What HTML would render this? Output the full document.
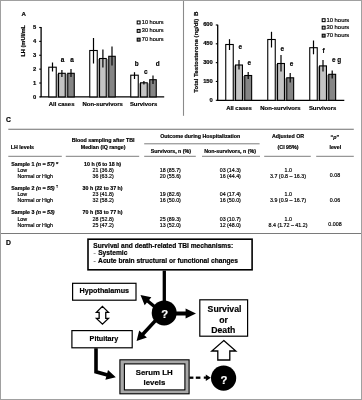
<!DOCTYPE html><html><head><meta charset="utf-8"><style>html,body{margin:0;padding:0;background:#fff;}svg{display:block;will-change:transform;}text{font-family:"Liberation Sans", sans-serif;}</style></head><body>
<svg width="362" height="400" viewBox="0 0 362 400" font-family='"Liberation Sans", sans-serif'>
<rect x="0" y="0" width="362" height="400" fill="#fff"/>
<text x="21.4" y="15.9" font-size="6.1" font-weight="bold" text-anchor="start" fill="#000" stroke="#000" stroke-width="0.18" >A</text>
<text transform="translate(25.1,56.6) rotate(-90)" font-size="5.65" font-weight="bold" stroke="#000" stroke-width="0.18">LH (mUI/mL</text>
<line x1="41.1" y1="27.0" x2="41.1" y2="96.9" stroke="#000" stroke-width="1.3" />
<line x1="40.4" y1="96.9" x2="164.2" y2="96.9" stroke="#000" stroke-width="1.2" />
<line x1="39.2" y1="96.9" x2="41.1" y2="96.9" stroke="#000" stroke-width="1.1" />
<text x="36.2" y="98.8" font-size="5.8" font-weight="bold" text-anchor="end" fill="#000" stroke="#000" stroke-width="0.18" >0</text>
<line x1="39.2" y1="83.02" x2="41.1" y2="83.02" stroke="#000" stroke-width="1.1" />
<text x="36.2" y="84.92" font-size="5.8" font-weight="bold" text-anchor="end" fill="#000" stroke="#000" stroke-width="0.18" >1</text>
<line x1="39.2" y1="69.14" x2="41.1" y2="69.14" stroke="#000" stroke-width="1.1" />
<text x="36.2" y="71.04" font-size="5.8" font-weight="bold" text-anchor="end" fill="#000" stroke="#000" stroke-width="0.18" >2</text>
<line x1="39.2" y1="55.26" x2="41.1" y2="55.26" stroke="#000" stroke-width="1.1" />
<text x="36.2" y="57.16" font-size="5.8" font-weight="bold" text-anchor="end" fill="#000" stroke="#000" stroke-width="0.18" >3</text>
<line x1="39.2" y1="41.38" x2="41.1" y2="41.38" stroke="#000" stroke-width="1.1" />
<text x="36.2" y="43.28" font-size="5.8" font-weight="bold" text-anchor="end" fill="#000" stroke="#000" stroke-width="0.18" >4</text>
<line x1="39.2" y1="27.5" x2="41.1" y2="27.5" stroke="#000" stroke-width="1.1" />
<text x="36.2" y="29.4" font-size="5.8" font-weight="bold" text-anchor="end" fill="#000" stroke="#000" stroke-width="0.18" >5</text>
<rect x="56.8" y="73.8" width="1.2" height="23.1" fill="#a2a2a2"/>
<rect x="65.8" y="73.8" width="1.4" height="23.1" fill="#a2a2a2"/>
<rect x="48.75" y="67.2" width="7.5" height="29.7" fill="#fff" stroke="#000" stroke-width="1.1"/>
<line x1="52.5" y1="62.5" x2="52.5" y2="71.5" stroke="#000" stroke-width="1.2" />
<rect x="58.55" y="73.3" width="6.7" height="23.6" fill="#c4c4c4" stroke="#000" stroke-width="1.1"/>
<line x1="61.9" y1="70.0" x2="61.9" y2="77.0" stroke="#000" stroke-width="1.2" />
<rect x="67.75" y="73.3" width="6.5" height="23.6" fill="#858585" stroke="#000" stroke-width="1.1"/>
<line x1="71.0" y1="69.0" x2="71.0" y2="77.0" stroke="#000" stroke-width="1.2" />
<rect x="97.8" y="59.0" width="1.2" height="37.9" fill="#a2a2a2"/>
<rect x="106.8" y="59.0" width="1.4" height="37.9" fill="#a2a2a2"/>
<rect x="89.75" y="50.5" width="7.5" height="46.4" fill="#fff" stroke="#000" stroke-width="1.1"/>
<line x1="93.5" y1="38.0" x2="93.5" y2="63.5" stroke="#000" stroke-width="1.2" />
<rect x="99.55" y="58.5" width="6.7" height="38.4" fill="#c4c4c4" stroke="#000" stroke-width="1.1"/>
<line x1="102.9" y1="49.5" x2="102.9" y2="67.5" stroke="#000" stroke-width="1.2" />
<rect x="108.75" y="56.3" width="6.5" height="40.6" fill="#858585" stroke="#000" stroke-width="1.1"/>
<line x1="112.0" y1="46.5" x2="112.0" y2="65.5" stroke="#000" stroke-width="1.2" />
<rect x="138.8" y="83.3" width="1.2" height="13.6" fill="#a2a2a2"/>
<rect x="147.8" y="83.3" width="1.4" height="13.6" fill="#a2a2a2"/>
<rect x="130.75" y="75.2" width="7.5" height="21.7" fill="#fff" stroke="#000" stroke-width="1.1"/>
<line x1="134.5" y1="72.2" x2="134.5" y2="79.0" stroke="#000" stroke-width="1.2" />
<rect x="140.55" y="82.8" width="6.7" height="14.1" fill="#c4c4c4" stroke="#000" stroke-width="1.1"/>
<line x1="143.9" y1="81.0" x2="143.9" y2="84.5" stroke="#000" stroke-width="1.2" />
<rect x="149.75" y="79.7" width="6.5" height="17.2" fill="#858585" stroke="#000" stroke-width="1.1"/>
<line x1="153.0" y1="75.5" x2="153.0" y2="84.0" stroke="#000" stroke-width="1.2" />
<text x="62.6" y="62.3" font-size="6.4" font-weight="bold" text-anchor="middle" fill="#000" stroke="#000" stroke-width="0.18" >a</text>
<text x="72.1" y="62.3" font-size="6.4" font-weight="bold" text-anchor="middle" fill="#000" stroke="#000" stroke-width="0.18" >a</text>
<text x="136.8" y="65.8" font-size="6.4" font-weight="bold" text-anchor="middle" fill="#000" stroke="#000" stroke-width="0.18" >b</text>
<text x="145.8" y="73.6" font-size="6.4" font-weight="bold" text-anchor="middle" fill="#000" stroke="#000" stroke-width="0.18" >c</text>
<text x="157.8" y="65.8" font-size="6.4" font-weight="bold" text-anchor="middle" fill="#000" stroke="#000" stroke-width="0.18" >d</text>
<text x="61.6" y="106.2" font-size="5.95" font-weight="bold" text-anchor="middle" fill="#000" stroke="#000" stroke-width="0.18" >All cases</text>
<text x="102.7" y="106.2" font-size="5.95" font-weight="bold" text-anchor="middle" fill="#000" stroke="#000" stroke-width="0.18" >Non-survivors</text>
<text x="143.6" y="106.2" font-size="5.95" font-weight="bold" text-anchor="middle" fill="#000" stroke="#000" stroke-width="0.18" >Survivors</text>
<rect x="137.2" y="21.0" width="2.9" height="2.9" fill="#fff" stroke="#000" stroke-width="1.05"/>
<text x="141.8" y="23.85" font-size="5.6" text-anchor="start" fill="#000" stroke="#000" stroke-width="0.18" >10 hours</text>
<rect x="137.2" y="29.45" width="2.9" height="2.9" fill="#c4c4c4" stroke="#000" stroke-width="1.05"/>
<text x="141.8" y="32.3" font-size="5.6" text-anchor="start" fill="#000" stroke="#000" stroke-width="0.18" >30 hours</text>
<rect x="137.2" y="38.2" width="2.9" height="2.9" fill="#858585" stroke="#000" stroke-width="1.05"/>
<text x="141.8" y="41.05" font-size="5.6" text-anchor="start" fill="#000" stroke="#000" stroke-width="0.18" >70 hours</text>
<line x1="183.5" y1="0" x2="183.5" y2="115.8" stroke="#8a8a8a" stroke-width="1.1" />
<text transform="translate(198.1,16.1) rotate(-90)" font-size="6.2" font-weight="bold" stroke="#000" stroke-width="0.18">B</text>
<text transform="translate(197.7,92.7) rotate(-90)" font-size="6.1" font-weight="bold" stroke="#000" stroke-width="0.18">Total Testosterone (ng/dl)</text>
<line x1="217.7" y1="24.8" x2="217.7" y2="100.3" stroke="#000" stroke-width="1.3" />
<line x1="217.0" y1="100.3" x2="344.3" y2="100.3" stroke="#000" stroke-width="1.2" />
<line x1="215.8" y1="100.3" x2="217.7" y2="100.3" stroke="#000" stroke-width="1.1" />
<text x="212.8" y="101.7" font-size="5.8" font-weight="bold" text-anchor="end" fill="#000" stroke="#000" stroke-width="0.18" >0</text>
<line x1="215.8" y1="81.47" x2="217.7" y2="81.47" stroke="#000" stroke-width="1.1" />
<text x="212.8" y="82.87" font-size="5.8" font-weight="bold" text-anchor="end" fill="#000" stroke="#000" stroke-width="0.18" >150</text>
<line x1="215.8" y1="62.64" x2="217.7" y2="62.64" stroke="#000" stroke-width="1.1" />
<text x="212.8" y="64.04" font-size="5.8" font-weight="bold" text-anchor="end" fill="#000" stroke="#000" stroke-width="0.18" >300</text>
<line x1="215.8" y1="43.81" x2="217.7" y2="43.81" stroke="#000" stroke-width="1.1" />
<text x="212.8" y="45.21" font-size="5.8" font-weight="bold" text-anchor="end" fill="#000" stroke="#000" stroke-width="0.18" >450</text>
<line x1="215.8" y1="24.98" x2="217.7" y2="24.98" stroke="#000" stroke-width="1.1" />
<text x="212.8" y="26.38" font-size="5.8" font-weight="bold" text-anchor="end" fill="#000" stroke="#000" stroke-width="0.18" >600</text>
<rect x="233.8" y="65.5" width="1.2" height="34.8" fill="#a2a2a2"/>
<rect x="243.0" y="76.0" width="1.2" height="24.3" fill="#a2a2a2"/>
<rect x="225.75" y="44.5" width="7.5" height="55.8" fill="#fff" stroke="#000" stroke-width="1.1"/>
<line x1="229.5" y1="39.2" x2="229.5" y2="50.0" stroke="#000" stroke-width="1.2" />
<rect x="235.55" y="65.0" width="6.9" height="35.3" fill="#c4c4c4" stroke="#000" stroke-width="1.1"/>
<line x1="239.0" y1="60.0" x2="239.0" y2="69.5" stroke="#000" stroke-width="1.2" />
<rect x="244.75" y="75.5" width="6.9" height="24.8" fill="#858585" stroke="#000" stroke-width="1.1"/>
<line x1="248.2" y1="72.0" x2="248.2" y2="79.0" stroke="#000" stroke-width="1.2" />
<rect x="275.8" y="64.0" width="1.2" height="36.3" fill="#a2a2a2"/>
<rect x="285.0" y="78.3" width="1.2" height="22.0" fill="#a2a2a2"/>
<rect x="267.75" y="39.5" width="7.5" height="60.8" fill="#fff" stroke="#000" stroke-width="1.1"/>
<line x1="271.5" y1="31.8" x2="271.5" y2="47.5" stroke="#000" stroke-width="1.2" />
<rect x="277.55" y="63.5" width="6.9" height="36.8" fill="#c4c4c4" stroke="#000" stroke-width="1.1"/>
<line x1="281.0" y1="55.0" x2="281.0" y2="71.5" stroke="#000" stroke-width="1.2" />
<rect x="286.75" y="77.8" width="6.9" height="22.5" fill="#858585" stroke="#000" stroke-width="1.1"/>
<line x1="290.2" y1="73.0" x2="290.2" y2="82.5" stroke="#000" stroke-width="1.2" />
<rect x="317.8" y="66.4" width="1.2" height="33.9" fill="#a2a2a2"/>
<rect x="327.0" y="74.8" width="1.2" height="25.5" fill="#a2a2a2"/>
<rect x="309.75" y="47.7" width="7.5" height="52.6" fill="#fff" stroke="#000" stroke-width="1.1"/>
<line x1="313.5" y1="40.5" x2="313.5" y2="54.3" stroke="#000" stroke-width="1.2" />
<rect x="319.55" y="65.9" width="6.9" height="34.4" fill="#c4c4c4" stroke="#000" stroke-width="1.1"/>
<line x1="323.0" y1="59.9" x2="323.0" y2="71.5" stroke="#000" stroke-width="1.2" />
<rect x="328.75" y="74.3" width="6.9" height="26.0" fill="#858585" stroke="#000" stroke-width="1.1"/>
<line x1="332.2" y1="70.4" x2="332.2" y2="78.5" stroke="#000" stroke-width="1.2" />
<text x="240.2" y="49.2" font-size="6.4" font-weight="bold" text-anchor="middle" fill="#000" stroke="#000" stroke-width="0.18" >e</text>
<text x="249.4" y="64.8" font-size="6.4" font-weight="bold" text-anchor="middle" fill="#000" stroke="#000" stroke-width="0.18" >e</text>
<text x="282.2" y="50.7" font-size="6.4" font-weight="bold" text-anchor="middle" fill="#000" stroke="#000" stroke-width="0.18" >e</text>
<text x="291.6" y="65.8" font-size="6.4" font-weight="bold" text-anchor="middle" fill="#000" stroke="#000" stroke-width="0.18" >e</text>
<text x="323.5" y="53.2" font-size="6.4" font-weight="bold" text-anchor="middle" fill="#000" stroke="#000" stroke-width="0.18" >f</text>
<text x="336.5" y="61.5" font-size="6.4" font-weight="bold" text-anchor="middle" fill="#000" stroke="#000" stroke-width="0.18" >e g</text>
<text x="239.0" y="110.2" font-size="5.95" font-weight="bold" text-anchor="middle" fill="#000" stroke="#000" stroke-width="0.18" >All cases</text>
<text x="280.4" y="110.2" font-size="5.95" font-weight="bold" text-anchor="middle" fill="#000" stroke="#000" stroke-width="0.18" >Non-survivors</text>
<text x="322.6" y="110.2" font-size="5.95" font-weight="bold" text-anchor="middle" fill="#000" stroke="#000" stroke-width="0.18" >Survivors</text>
<rect x="322.2" y="18.75" width="2.9" height="2.9" fill="#fff" stroke="#000" stroke-width="1.05"/>
<text x="326.4" y="21.7" font-size="5.9" text-anchor="start" fill="#000" stroke="#000" stroke-width="0.18" >10 hours</text>
<rect x="322.2" y="26.2" width="2.9" height="2.9" fill="#c4c4c4" stroke="#000" stroke-width="1.05"/>
<text x="326.4" y="29.15" font-size="5.9" text-anchor="start" fill="#000" stroke="#000" stroke-width="0.18" >30 hours</text>
<rect x="322.2" y="34.2" width="2.9" height="2.9" fill="#858585" stroke="#000" stroke-width="1.05"/>
<text x="326.4" y="37.15" font-size="5.9" text-anchor="start" fill="#000" stroke="#000" stroke-width="0.18" >70 hours</text>
<text x="5.9" y="121.9" font-size="6.8" font-weight="bold" text-anchor="start" fill="#000" stroke="#000" stroke-width="0.18" >C</text>
<line x1="8.3" y1="129.2" x2="353.8" y2="129.2" stroke="#6e6e6e" stroke-width="1.1" />
<text x="10.8" y="149.0" font-size="5.3" font-weight="bold" text-anchor="start" fill="#000" stroke="#000" stroke-width="0.18" >LH levels</text>
<text x="103.1" y="142.0" font-size="5.3" font-weight="bold" text-anchor="middle" fill="#000" stroke="#000" stroke-width="0.18" >Blood sampling after TBI</text>
<text x="103.1" y="148.7" font-size="5.3" font-weight="bold" text-anchor="middle" fill="#000" stroke="#000" stroke-width="0.18" >Median (IQ range)</text>
<text x="200.2" y="138.2" font-size="5.3" font-weight="bold" text-anchor="middle" fill="#000" stroke="#000" stroke-width="0.18" >Outcome during Hospitalization</text>
<line x1="144.2" y1="143.8" x2="259.6" y2="143.8" stroke="#6e6e6e" stroke-width="0.9" />
<text x="170.9" y="152.5" font-size="5.3" font-weight="bold" text-anchor="middle" fill="#000" stroke="#000" stroke-width="0.18" >Survivors, n (%)</text>
<text x="230.1" y="152.5" font-size="5.3" font-weight="bold" text-anchor="middle" fill="#000" stroke="#000" stroke-width="0.18" >Non-survivors, n (%)</text>
<text x="288.1" y="138.1" font-size="5.3" font-weight="bold" text-anchor="middle" fill="#000" stroke="#000" stroke-width="0.18" >Adjusted OR</text>
<text x="288.0" y="148.7" font-size="5.3" font-weight="bold" text-anchor="middle" fill="#000" stroke="#000" stroke-width="0.18" >(CI 95%)</text>
<text x="334.9" y="138.5" font-size="5.3" font-weight="bold" text-anchor="middle" fill="#000" stroke="#000" stroke-width="0.18" >“<tspan font-style="italic">p</tspan>”</text>
<text x="335.3" y="149.0" font-size="5.3" font-weight="bold" text-anchor="middle" fill="#000" stroke="#000" stroke-width="0.18" >level</text>
<line x1="8.3" y1="156.3" x2="61.8" y2="156.3" stroke="#6e6e6e" stroke-width="0.9" />
<line x1="65.8" y1="156.3" x2="139.2" y2="156.3" stroke="#6e6e6e" stroke-width="0.9" />
<line x1="144.2" y1="156.3" x2="195.8" y2="156.3" stroke="#6e6e6e" stroke-width="0.9" />
<line x1="202.0" y1="156.3" x2="260.0" y2="156.3" stroke="#6e6e6e" stroke-width="0.9" />
<line x1="264.2" y1="156.3" x2="310.8" y2="156.3" stroke="#6e6e6e" stroke-width="0.9" />
<line x1="316.2" y1="156.3" x2="353.8" y2="156.3" stroke="#6e6e6e" stroke-width="0.9" />
<text x="11.2" y="165.5" font-size="5.3" font-weight="bold" text-anchor="start" fill="#000" stroke="#000" stroke-width="0.18" >Sample 1 <tspan font-style="italic">(n = 57)</tspan></text>
<text x="56.0" y="165.8" font-size="6.0" font-weight="bold" text-anchor="start" fill="#000" stroke="#000" stroke-width="0.18" >*</text>
<text x="102.6" y="165.5" font-size="5.3" font-weight="bold" text-anchor="middle" fill="#000" stroke="#000" stroke-width="0.18" >10 h (6 to 18 h)</text>
<text x="17.4" y="171.7" font-size="5.3" text-anchor="start" fill="#000" stroke="#000" stroke-width="0.18" >Low</text>
<text x="103.1" y="171.7" font-size="5.3" text-anchor="middle" fill="#000" stroke="#000" stroke-width="0.18" >21 (36.8)</text>
<text x="170.3" y="171.7" font-size="5.3" text-anchor="middle" fill="#000" stroke="#000" stroke-width="0.18" >18 (85.7)</text>
<text x="230.3" y="171.7" font-size="5.3" text-anchor="middle" fill="#000" stroke="#000" stroke-width="0.18" >03 (14.3)</text>
<text x="288.3" y="171.7" font-size="5.3" text-anchor="middle" fill="#000" stroke="#000" stroke-width="0.18" >1.0</text>
<text x="17.4" y="177.8" font-size="5.3" text-anchor="start" fill="#000" stroke="#000" stroke-width="0.18" >Normal or High</text>
<text x="103.1" y="177.8" font-size="5.3" text-anchor="middle" fill="#000" stroke="#000" stroke-width="0.18" >36 (63.2)</text>
<text x="170.3" y="177.8" font-size="5.3" text-anchor="middle" fill="#000" stroke="#000" stroke-width="0.18" >20 (55.6)</text>
<text x="230.3" y="177.8" font-size="5.3" text-anchor="middle" fill="#000" stroke="#000" stroke-width="0.18" >16 (44.4)</text>
<text x="288.0" y="177.8" font-size="5.3" text-anchor="middle" fill="#000" stroke="#000" stroke-width="0.18" >3.7 (0.8 – 16.3)</text>
<text x="335.0" y="177.2" font-size="5.3" text-anchor="middle" fill="#000" stroke="#000" stroke-width="0.18" >0.08</text>
<text x="11.2" y="190.0" font-size="5.3" font-weight="bold" text-anchor="start" fill="#000" stroke="#000" stroke-width="0.18" >Sample 2 <tspan font-style="italic">(n = 55)</tspan></text>
<text x="56.1" y="188.1" font-size="3.9" text-anchor="start" fill="#000" stroke="#000" stroke-width="0.18" >†</text>
<text x="102.6" y="190.0" font-size="5.3" font-weight="bold" text-anchor="middle" fill="#000" stroke="#000" stroke-width="0.18" >30 h (22 to 37 h)</text>
<text x="17.4" y="196.2" font-size="5.3" text-anchor="start" fill="#000" stroke="#000" stroke-width="0.18" >Low</text>
<text x="103.1" y="196.2" font-size="5.3" text-anchor="middle" fill="#000" stroke="#000" stroke-width="0.18" >23 (41.8)</text>
<text x="170.3" y="196.2" font-size="5.3" text-anchor="middle" fill="#000" stroke="#000" stroke-width="0.18" >19 (82.6)</text>
<text x="230.3" y="196.2" font-size="5.3" text-anchor="middle" fill="#000" stroke="#000" stroke-width="0.18" >04 (17.4)</text>
<text x="288.3" y="196.2" font-size="5.3" text-anchor="middle" fill="#000" stroke="#000" stroke-width="0.18" >1.0</text>
<text x="17.4" y="202.2" font-size="5.3" text-anchor="start" fill="#000" stroke="#000" stroke-width="0.18" >Normal or High</text>
<text x="103.1" y="202.2" font-size="5.3" text-anchor="middle" fill="#000" stroke="#000" stroke-width="0.18" >32 (58.2)</text>
<text x="170.3" y="202.2" font-size="5.3" text-anchor="middle" fill="#000" stroke="#000" stroke-width="0.18" >16 (50.0)</text>
<text x="230.3" y="202.2" font-size="5.3" text-anchor="middle" fill="#000" stroke="#000" stroke-width="0.18" >16 (50.0)</text>
<text x="288.0" y="202.2" font-size="5.3" text-anchor="middle" fill="#000" stroke="#000" stroke-width="0.18" >3.9 (0.9 – 16.7)</text>
<text x="335.0" y="201.6" font-size="5.3" text-anchor="middle" fill="#000" stroke="#000" stroke-width="0.18" >0.06</text>
<text x="11.2" y="214.4" font-size="5.3" font-weight="bold" text-anchor="start" fill="#000" stroke="#000" stroke-width="0.18" >Sample 3 <tspan font-style="italic">(n = 53)</tspan></text>
<text x="102.6" y="214.4" font-size="5.3" font-weight="bold" text-anchor="middle" fill="#000" stroke="#000" stroke-width="0.18" >70 h (53 to 77 h)</text>
<text x="17.4" y="220.5" font-size="5.3" text-anchor="start" fill="#000" stroke="#000" stroke-width="0.18" >Low</text>
<text x="103.1" y="220.5" font-size="5.3" text-anchor="middle" fill="#000" stroke="#000" stroke-width="0.18" >28 (52.8)</text>
<text x="170.3" y="220.5" font-size="5.3" text-anchor="middle" fill="#000" stroke="#000" stroke-width="0.18" >25 (89.3)</text>
<text x="230.3" y="220.5" font-size="5.3" text-anchor="middle" fill="#000" stroke="#000" stroke-width="0.18" >03 (10.7)</text>
<text x="288.3" y="220.5" font-size="5.3" text-anchor="middle" fill="#000" stroke="#000" stroke-width="0.18" >1.0</text>
<text x="17.4" y="226.6" font-size="5.3" text-anchor="start" fill="#000" stroke="#000" stroke-width="0.18" >Normal or High</text>
<text x="103.1" y="226.6" font-size="5.3" text-anchor="middle" fill="#000" stroke="#000" stroke-width="0.18" >25 (47.2)</text>
<text x="170.3" y="226.6" font-size="5.3" text-anchor="middle" fill="#000" stroke="#000" stroke-width="0.18" >13 (52.0)</text>
<text x="230.3" y="226.6" font-size="5.3" text-anchor="middle" fill="#000" stroke="#000" stroke-width="0.18" >12 (48.0)</text>
<text x="288.0" y="226.6" font-size="5.3" text-anchor="middle" fill="#000" stroke="#000" stroke-width="0.18" >8.4 (1.72 – 41.2)</text>
<text x="335.0" y="226.0" font-size="5.3" text-anchor="middle" fill="#000" stroke="#000" stroke-width="0.18" >0.008</text>
<line x1="0" y1="233.5" x2="362" y2="233.5" stroke="#7a7a7a" stroke-width="1.2" />
<text x="5.9" y="245.3" font-size="6.8" font-weight="bold" text-anchor="start" fill="#000" stroke="#000" stroke-width="0.18" >D</text>
<rect x="88.0" y="239.2" width="164.1" height="30.6" fill="#fff" stroke="#000" stroke-width="1.6"/>
<text x="93.3" y="247.6" font-size="6.65" font-weight="bold" text-anchor="start" fill="#000" stroke="#000" stroke-width="0.18" >Survival and death-related TBI mechanisms:</text>
<text x="93.4" y="255.1" font-size="6.65" text-anchor="start" fill="#777" stroke="#777" stroke-width="0.18" >-</text>
<text x="98.2" y="255.1" font-size="6.65" font-weight="bold" text-anchor="start" fill="#000" stroke="#000" stroke-width="0.18" >Systemic</text>
<text x="93.4" y="262.5" font-size="6.65" text-anchor="start" fill="#555" stroke="#555" stroke-width="0.18" >-</text>
<text x="98.1" y="262.5" font-size="6.65" font-weight="bold" text-anchor="start" fill="#000" stroke="#000" stroke-width="0.18" >Acute brain structural or functional changes</text>
<line x1="164.3" y1="270.6" x2="164.3" y2="302" stroke="#000" stroke-width="3.3" />
<circle cx="164.2" cy="312.9" r="12.5" fill="#000"/>
<text x="164.7" y="318.0" font-size="11.3" font-weight="bold" text-anchor="middle" fill="#fff" stroke="#fff" stroke-width="0.18" >?</text>
<polygon points="156.99,306.50 149.10,299.89 151.35,297.21 140.50,294.90 144.67,305.18 146.92,302.50 154.81,309.10" fill="#000"/>
<polygon points="175.00,315.40 185.60,315.40 185.60,318.60 196.00,313.50 185.60,308.40 185.60,311.60 175.00,311.60" fill="#000"/>
<polygon points="154.75,318.85 141.80,332.87 139.19,330.46 136.60,341.00 146.90,337.58 144.30,335.18 157.25,321.15" fill="#000"/>
<rect x="72.6" y="283.3" width="63.4" height="16.9" fill="#fff" stroke="#000" stroke-width="1.2"/>
<text x="104.3" y="292.9" font-size="7.2" font-weight="bold" text-anchor="middle" fill="#000" stroke="#000" stroke-width="0.18" >Hypothalamus</text>
<polygon points="102.45,306.40 108.45,312.30 105.75,312.30 105.75,318.40 108.45,318.40 102.45,324.10 96.45,318.40 99.15,318.40 99.15,312.30 96.45,312.30" fill="#fff" stroke="#000" stroke-width="1.3" stroke-linejoin="miter"/>
<rect x="71.9" y="330.6" width="60.3" height="17.2" fill="#fff" stroke="#000" stroke-width="1.2"/>
<text x="104.0" y="340.8" font-size="7.2" font-weight="bold" text-anchor="middle" fill="#000" stroke="#000" stroke-width="0.18" >Pituitary</text>
<polyline points="96.0,348.2 96.0,371.8 107.5,375.0" fill="none" stroke="#000" stroke-width="3.6" stroke-linejoin="miter"/>
<polygon points="103.99,374.25 106.70,374.96 105.41,379.84 115.80,377.30 108.00,369.98 106.72,374.86 104.01,374.15" fill="#000"/>
<rect x="119.9" y="359.8" width="69.2" height="34.0" fill="#a8a8a8" stroke="#000" stroke-width="1.1"/>
<rect x="124.4" y="363.9" width="60.5" height="26.0" fill="#fff" stroke="#000" stroke-width="1.1"/>
<text x="154.2" y="375.2" font-size="7.8" font-weight="bold" text-anchor="middle" fill="#000" stroke="#000" stroke-width="0.18" >Serum LH</text>
<text x="154.4" y="385.0" font-size="7.8" font-weight="bold" text-anchor="middle" fill="#000" stroke="#000" stroke-width="0.18" >levels</text>
<line x1="189.4" y1="377.7" x2="193.4" y2="377.7" stroke="#000" stroke-width="2.3" />
<line x1="195.8" y1="377.7" x2="200.4" y2="377.7" stroke="#000" stroke-width="2.3" />
<polygon points="203.80,378.85 205.80,378.85 205.80,380.90 210.80,377.70 205.80,374.50 205.80,376.55 203.80,376.55" fill="#000"/>
<circle cx="223.6" cy="378.1" r="12.6" fill="#000"/>
<text x="224.0" y="383.7" font-size="11.3" font-weight="bold" text-anchor="middle" fill="#fff" stroke="#fff" stroke-width="0.18" >?</text>
<polygon points="223.80,340.60 235.80,351.00 229.80,351.00 229.80,360.00 217.80,360.00 217.80,351.00 211.80,351.00" fill="#fff" stroke="#000" stroke-width="1.3"/>
<rect x="199.8" y="299.8" width="47.8" height="36.4" fill="#fff" stroke="#000" stroke-width="1.2"/>
<text x="224.5" y="312.3" font-size="8.7" font-weight="bold" text-anchor="middle" fill="#000" stroke="#000" stroke-width="0.18" >Survival</text>
<text x="223.6" y="322.6" font-size="8.7" font-weight="bold" text-anchor="middle" fill="#000" stroke="#000" stroke-width="0.18" >or</text>
<text x="223.3" y="332.6" font-size="8.7" font-weight="bold" text-anchor="middle" fill="#000" stroke="#000" stroke-width="0.18" >Death</text>
<rect x="0.5" y="0.5" width="361" height="399" fill="none" stroke="#a0a0a0" stroke-width="1"/>
</svg></body></html>
